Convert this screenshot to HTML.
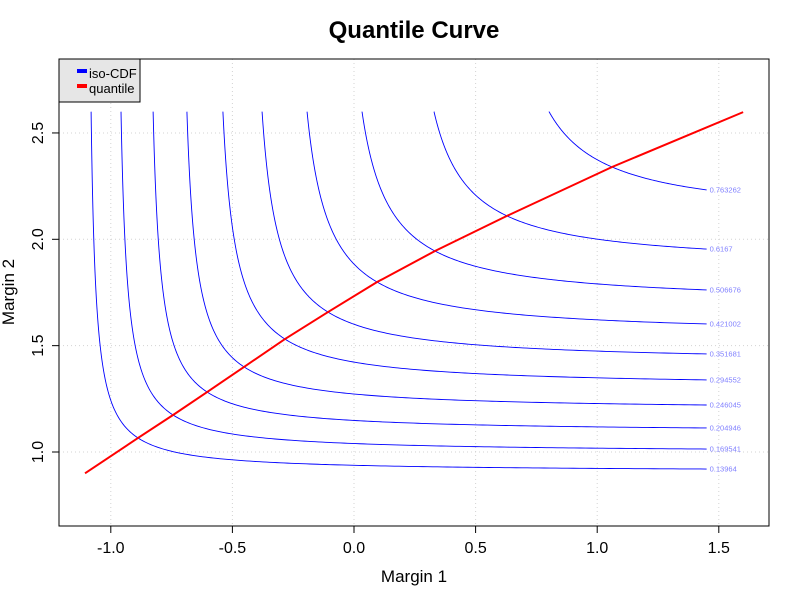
<!DOCTYPE html>
<html><head><meta charset="utf-8"><style>body{margin:0;background:#fff}svg{display:block;font-family:"Liberation Sans",sans-serif}</style></head>
<body>
<svg id="chart" width="800" height="600" viewBox="0 0 800 600">
<rect x="0" y="0" width="800" height="600" fill="#fff"/>
<text x="414" y="38" text-anchor="middle" font-size="24" font-weight="bold">Quantile Curve</text>
<g id="grid"></g>
<g id="contours"></g>
<g id="quant"></g>
<rect x="59" y="59" width="710" height="467" fill="none" stroke="#000"/>
<g id="axes"></g>
<text x="414" y="582" text-anchor="middle" font-size="17">Margin 1</text>
<text transform="translate(14,292) rotate(-90)" text-anchor="middle" font-size="17">Margin 2</text>
<g>
<rect x="59" y="59" width="81" height="43" fill="#e6e6e6" stroke="#000"/>
<rect x="77" y="69" width="10" height="4" fill="#00f"/>
<text x="89" y="78" font-size="13">iso-CDF</text>
<rect x="77" y="84" width="10" height="4" fill="#f00"/>
<text x="89" y="93" font-size="13">quantile</text>
</g>
</svg>
<script>
const xTicks=[-1.0,-0.5,0.0,0.5,1.0,1.5];
const xTickLabels=["-1.0","-0.5","0.0","0.5","1.0","1.5"];
const yTicks=[1.0,1.5,2.0,2.5];
const yTickLabels=["1.0","1.5","2.0","2.5"];
const levels=[0.13964,0.169541,0.204946,0.246045,0.294552,0.351681,0.421002,0.506676,0.6167,0.763262];
const levelLabels=["0.13964","0.169541","0.204946","0.246045","0.294552","0.351681","0.421002","0.506676","0.6167","0.763262"];
const contourTopX=[-1.081,-0.958,-0.826,-0.687,-0.539,-0.378,-0.193,0.033,0.329,0.802];
const contourMidX=[-0.888,-0.744,-0.604,-0.452,-0.284,-0.107,0.095,0.333,0.629,1.061];
const contourMidY=[1.066,1.174,1.282,1.400,1.531,1.658,1.799,1.945,2.110,2.340];
const contourRightY=[0.920,1.014,1.113,1.221,1.339,1.461,1.602,1.762,1.954,2.232];
const quantX=[-1.106,-0.888,-0.744,-0.604,-0.452,-0.284,-0.107,0.095,0.333,0.629,1.061,1.6];
const quantY=[0.90,1.066,1.174,1.282,1.400,1.531,1.658,1.799,1.945,2.110,2.340,2.598];
const TOPY=2.6, RIGHTX=1.45;
const NS="http://www.w3.org/2000/svg";
const sx=v=>354+v*243.2, sy=v=>452-(v-1)*212.7;
function mk(tag,attrs,parent){const e=document.createElementNS(NS,tag);for(const k in attrs)e.setAttribute(k,attrs[k]);parent.appendChild(e);return e;}
const grid=document.getElementById('grid'),axes=document.getElementById('axes');
xTicks.forEach((t,i)=>{
 const g=mk('line',{x1:sx(t),x2:sx(t),y1:59,y2:526,stroke:'#d3d3d3','stroke-dasharray':'1,3'},grid);
 
 
 const tk=mk('line',{x1:sx(t),x2:sx(t),y1:526,y2:533,stroke:'#000'},axes);
 
 
 const tl=mk('text',{x:sx(t),y:553,'text-anchor':'middle','font-size':16},axes);
 tl.textContent=xTickLabels[i];
 
 
});
yTicks.forEach((t,i)=>{
 const g=mk('line',{x1:59,x2:769,y1:sy(t),y2:sy(t),stroke:'#d3d3d3','stroke-dasharray':'1,3'},grid);
 
 
 const tk=mk('line',{x1:52,x2:59,y1:sy(t),y2:sy(t),stroke:'#000'},axes);
 
 
 const tl=mk('text',{transform:`translate(43,${sy(t)}) rotate(-90)`,'text-anchor':'middle','font-size':16},axes);
 tl.textContent=yTickLabels[i];
 
 
});
function fit(xT,xm,ym,yR){
 const y0of=x0=>((RIGHTX-x0)*yR-(xT-x0)*TOPY)/(RIGHTX-xT);
 const f=x0=>{const y0=y0of(x0);return (xm-x0)*(ym-y0)-(xT-x0)*(TOPY-y0);};
 let lo=xT-3,hi=xT-1e-6;
 for(let i=0;i<100;i++){const m=(lo+hi)/2; if(f(lo)*f(m)<=0)hi=m;else lo=m;}
 const x0=(lo+hi)/2,y0=y0of(x0);return {x0,y0,k:(xT-x0)*(TOPY-y0)};
}
const cg=document.getElementById('contours');
levels.forEach((lv,i)=>{
 const h=fit(contourTopX[i],contourMidX[i],contourMidY[i],contourRightY[i]);
 const pts=[];const N=200;
 const xa=contourTopX[i];
 for(let j=0;j<=N;j++){
  const t=j/N; const x=xa+(RIGHTX-xa)*Math.pow(t,2.2);
  let y=h.y0+h.k/(x-h.x0); if(y>TOPY)y=TOPY;
  pts.push(sx(x).toFixed(2)+','+sy(y).toFixed(2));
 }
 const p=mk('polyline',{points:pts.join(' '),fill:'none',stroke:'#0000ff','stroke-width':0.9},cg);
 
 
 const lb=mk('text',{x:sx(RIGHTX)+3,y:sy(contourRightY[i])+2.5,'font-size':7.5,fill:'#8080ff'},cg);
 lb.textContent=levelLabels[i];
 
 
});
const q=mk('polyline',{points:quantX.map((x,i)=>sx(x).toFixed(2)+','+sy(quantY[i]).toFixed(2)).join(' '),fill:'none',stroke:'#ff0000','stroke-width':2},document.getElementById('quant'));


</script>
</body></html>
